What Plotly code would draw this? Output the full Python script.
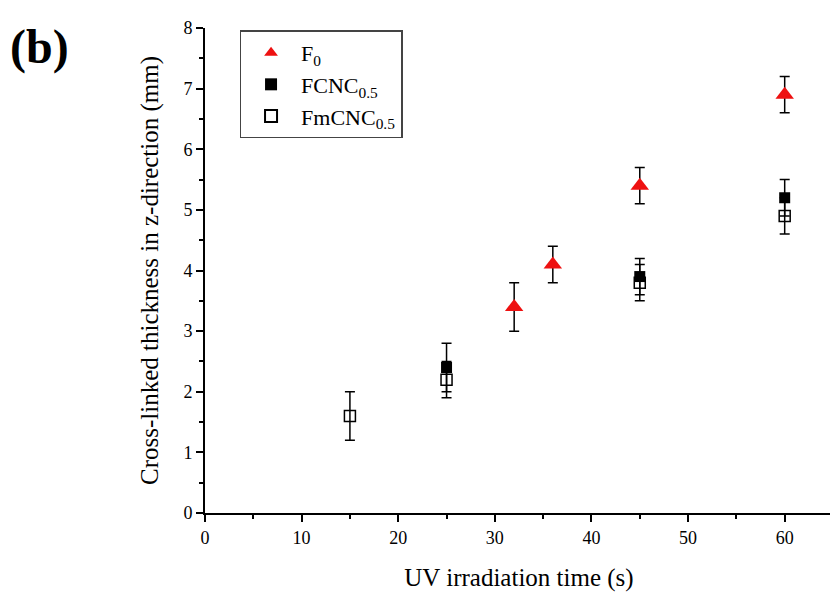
import plotly.graph_objects as go

# data
t_f0 = [32, 36, 45, 60]
y_f0 = [3.4, 4.1, 5.4, 6.9]
e_f0 = [0.4, 0.3, 0.3, 0.3]

t_fcnc = [25, 45, 60]
y_fcnc = [2.4, 3.9, 5.2]
e_fcnc = [0.4, 0.3, 0.3]

t_fmcnc = [15, 25, 45, 60]
y_fmcnc = [1.6, 2.2, 3.8, 4.9]
e_fmcnc = [0.4, 0.3, 0.3, 0.3]

serif = 'Liberation Serif, Times New Roman, serif'


def err(vals):
    return dict(type='data', array=vals, visible=True, color='black',
                thickness=1.5, width=5)


fig = go.Figure()
fig.add_trace(go.Scatter(x=t_f0, y=y_f0, mode='markers', name='F<sub>0</sub>',
                         error_y=err(e_f0),
                         marker=dict(symbol='triangle-up', size=16, color='#ee1111')))
fig.add_trace(go.Scatter(x=t_fcnc, y=y_fcnc, mode='markers', name='FCNC<sub>0.5</sub>',
                         error_y=err(e_fcnc),
                         marker=dict(symbol='square', size=11, color='black')))
fig.add_trace(go.Scatter(x=t_fmcnc, y=y_fmcnc, mode='markers', name='FmCNC<sub>0.5</sub>',
                         error_y=err(e_fmcnc),
                         marker=dict(symbol='square-open', size=11, color='black',
                                     line=dict(width=1.5))))

axis_common = dict(showline=True, linecolor='black', linewidth=2, showgrid=False,
                   zeroline=False, ticks='outside', ticklen=7, tickwidth=2,
                   tickcolor='black', tickfont=dict(family=serif, size=18, color='black'))

fig.update_xaxes(range=[0, 65], dtick=10, tick0=0,
                 minor=dict(ticks='outside', ticklen=4, tickwidth=2, dtick=5, tickcolor='black'),
                 title=dict(text='UV irradiation time (s)', standoff=22,
                            font=dict(family=serif, size=25, color='black')),
                 **axis_common)
fig.update_yaxes(range=[0, 8], dtick=1, tick0=0,
                 minor=dict(ticks='outside', ticklen=4, tickwidth=2, dtick=0.5, tickcolor='black'),
                 title=dict(text='Cross-linked thickness in z-direction (mm)', standoff=18,
                            font=dict(family=serif, size=25, color='black')),
                 **axis_common)

fig.add_annotation(text='<b>(b)</b>', x=-0.314, y=1.02, xref='paper', yref='paper',
                   showarrow=False, xanchor='left', yanchor='top',
                   font=dict(family=serif, size=48, color='black'))

# page body adds an 8px offset, so margins are shifted to line up with the reference
fig.update_layout(width=838, height=596,
                  margin=dict(l=197, r=13, t=10, b=91),
                  plot_bgcolor='white', paper_bgcolor='white',
                  showlegend=True,
                  legend=dict(x=0.055, y=0.995, xanchor='left', yanchor='top',
                              bgcolor='white', bordercolor='#444', borderwidth=1.5,
                              font=dict(family=serif, size=22, color='black'),
                              itemwidth=50, itemsizing='constant'))

fig.write_html("out.html")
